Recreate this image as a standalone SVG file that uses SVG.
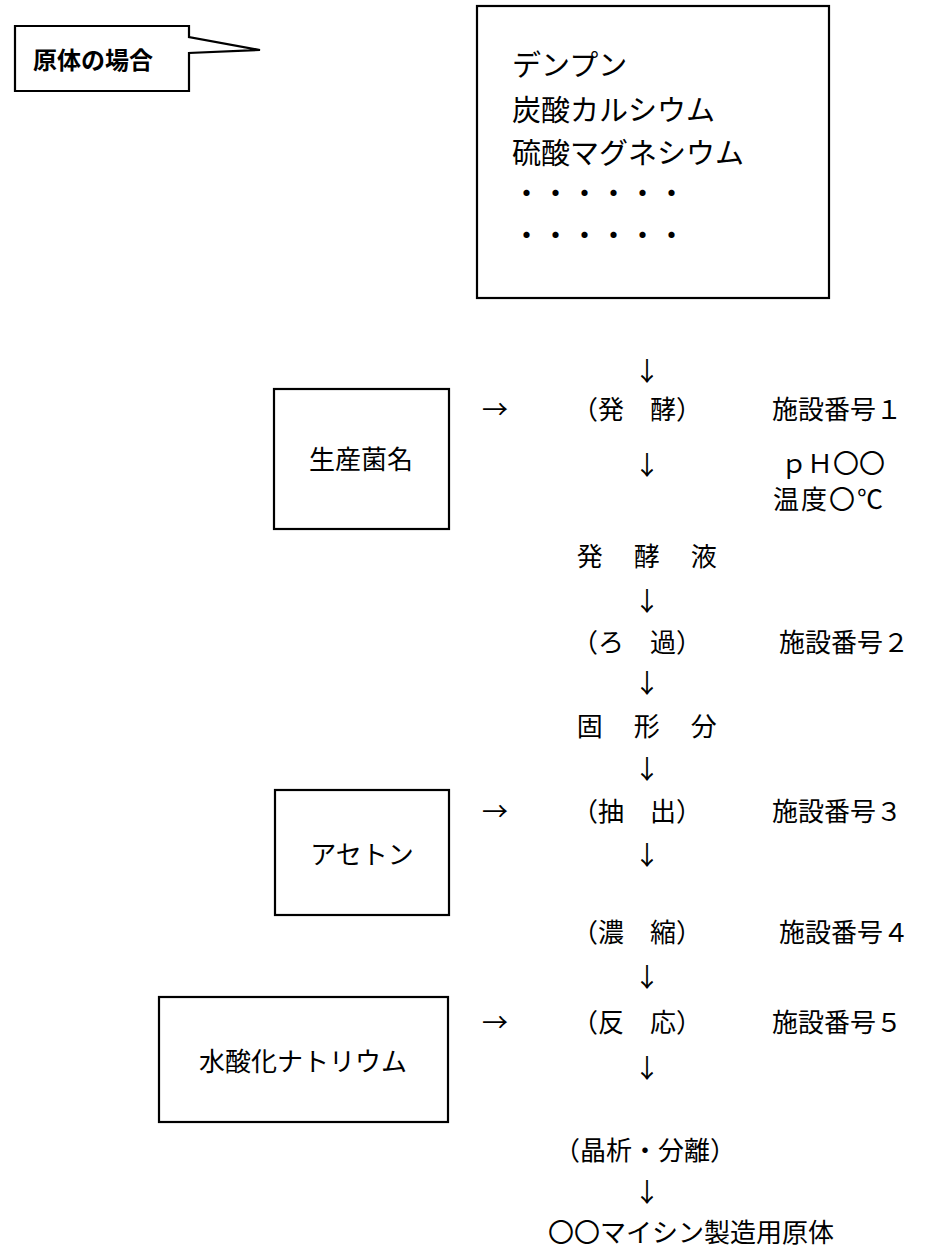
<svg xmlns="http://www.w3.org/2000/svg" width="927" height="1252" viewBox="0 0 927 1252">
<style>
.t{font-family:"Liberation Serif","Noto Sans CJK JP",serif;font-size:26px;fill:#000}
.tb{font-family:"Liberation Serif","Noto Sans CJK JP",serif;font-size:29px;fill:#000}
.c{text-anchor:middle}
.box{fill:#fff;stroke:#000;stroke-width:2.2}
.ar{font-family:"Noto Sans CJK JP",sans-serif;font-size:26px;fill:#000;text-anchor:middle}
.call{font-family:"Noto Sans CJK JP",sans-serif;font-weight:bold;font-size:24px;fill:#000}
</style>
<rect width="927" height="1252" fill="#fff"/>
<g id="callout">
<path class="box" d="M15,26 H189 V37 L260,50 L189,53 V91 H15 Z"/>
<text class="call" x="33" y="69">原体の場合</text>
</g>
<g id="materials">
<rect class="box" x="477" y="6" width="352" height="292"/>
<text class="tb" x="512" y="76">デンプン</text>
<text class="tb" x="512" y="121">炭酸カルシウム</text>
<text class="tb" x="512" y="164">硫酸マグネシウム</text>
<text class="tb" x="512" y="204">・・・・・・</text>
<text class="tb" x="512" y="246">・・・・・・</text>
</g>
<g id="strain">
<rect class="box" x="274" y="389" width="175" height="140"/>
<text class="t c" x="361" y="469">生産菌名</text>
</g>
<g id="acetone">
<rect class="box" x="275" y="790" width="174" height="125"/>
<text class="t c" x="362" y="864">アセトン</text>
</g>
<g id="naoh">
<rect class="box" x="159" y="997" width="289" height="125"/>
<text class="t c" x="303" y="1071">水酸化ナトリウム</text>
</g>
<g id="steps">
<text class="t c" x="637" y="419">（発　酵）</text>
<text class="t" x="772" y="419">施設番号１</text>
<text class="t" x="781" y="473">ｐＨ〇〇</text>
<text class="t" x="773" y="509" letter-spacing="2">温度〇℃</text>
<text class="t c" x="648" y="566" letter-spacing="2.5">発　酵　液</text>
<text class="t c" x="637" y="652">（ろ　過）</text>
<text class="t" x="779" y="652">施設番号２</text>
<text class="t c" x="648" y="736" letter-spacing="2.5">固　形　分</text>
<text class="t c" x="637" y="821">（抽　出）</text>
<text class="t" x="772" y="821">施設番号３</text>
<text class="t c" x="637" y="942">（濃　縮）</text>
<text class="t" x="779" y="942">施設番号４</text>
<text class="t c" x="637" y="1032">（反　応）</text>
<text class="t" x="772" y="1032">施設番号５</text>
<text class="t c" x="645" y="1160">（晶析・分離）</text>
<text class="t" x="548" y="1242">〇〇マイシン製造用原体</text>
</g>
<g id="connectors">
<text class="ar" x="647" y="381">↓</text>
<text class="ar" x="495" y="419">→</text>
<text class="ar" x="647" y="475">↓</text>
<text class="ar" x="647" y="611">↓</text>
<text class="ar" x="647" y="693">↓</text>
<text class="ar" x="647" y="779">↓</text>
<text class="ar" x="495" y="821">→</text>
<text class="ar" x="647" y="865">↓</text>
<text class="ar" x="647" y="987">↓</text>
<text class="ar" x="495" y="1032">→</text>
<text class="ar" x="647" y="1078">↓</text>
<text class="ar" x="647" y="1202">↓</text>
</g>
</svg>
